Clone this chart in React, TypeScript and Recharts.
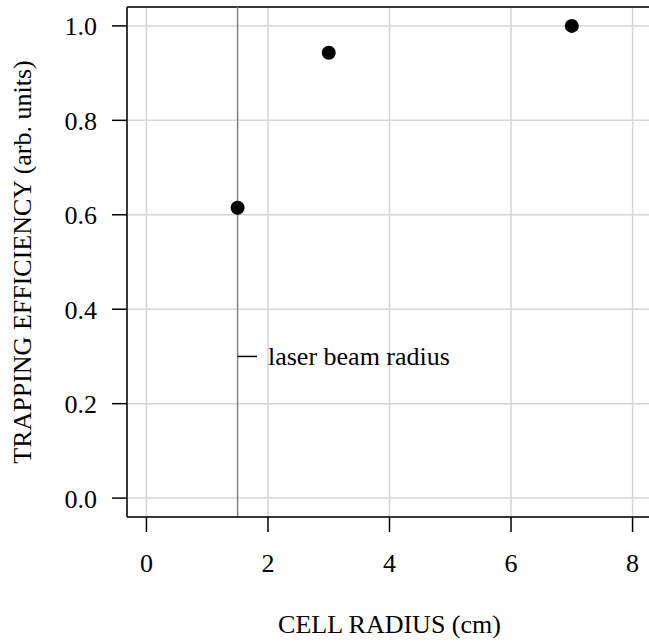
import React from 'react';
import {
  ScatterChart,
  Scatter,
  XAxis,
  YAxis,
  CartesianGrid,
  ReferenceLine,
  ReferenceDot,
} from 'recharts';

// cell radius (cm) vs trapping efficiency
const cellRadius = [1.5, 3, 7];
const efficiency = [0.615, 0.943, 1.0];

const xTicks = [0, 2, 4, 6, 8];
const yTicks = [0, 0.2, 0.4, 0.6, 0.8, 1.0];
const xDomain = [-0.32, 8.32];
const yDomain = [-0.04, 1.04];

const laserBeamRadius = 1.5;
const noteY = 0.3;
const noteDashEnd = 1.82;
const noteTextX = 2;
const noteText = 'laser beam radius';

const xTitle = 'CELL RADIUS (cm)';
const yTitle = 'TRAPPING EFFICIENCY (arb. units)';

const FONT = '"Liberation Serif", "Times New Roman", serif';
const FS = 26;

const points = cellRadius.map((r, i) => ({ x: r, y: efficiency[i] }));

const XTick = (props: any) => {
  const { x, y, payload } = props;
  return (
    <text x={x} y={y} textAnchor="middle" fill="#000" fontSize={FS} fontFamily={FONT}>
      {String(payload.value)}
    </text>
  );
};

const YTick = (props: any) => {
  const { x, y, payload } = props;
  return (
    <text x={x} y={y} dy={9.5} textAnchor="end" fill="#000" fontSize={FS} fontFamily={FONT}>
      {Number(payload.value).toFixed(1)}
    </text>
  );
};

const XTitle = (props: any) => {
  const vb = props.viewBox || {};
  return (
    <text x={vb.x + vb.width / 2} y={633} textAnchor="middle" fill="#000" fontSize={FS} fontFamily={FONT}>
      {xTitle}
    </text>
  );
};

const YTitle = (props: any) => {
  const vb = props.viewBox || {};
  const cy = vb.y + vb.height / 2;
  return (
    <text
      transform={`translate(31, ${cy}) rotate(-90)`}
      textAnchor="middle"
      fill="#000"
      fontSize={FS}
      fontFamily={FONT}
    >
      {yTitle}
    </text>
  );
};

const NoteLabel = (props: any) => {
  const vb = props.viewBox || {};
  return (
    <text x={vb.x} y={vb.y} dy={9} textAnchor="start" fill="#000" fontSize={FS} fontFamily={FONT}>
      {noteText}
    </text>
  );
};

const Dot = (props: any) => <circle cx={props.cx} cy={props.cy} r={7} fill="#000" />;

export default function App() {
  return (
    <div style={{ position: 'fixed', left: 0, top: 0, width: 649, height: 643, overflow: 'hidden', background: '#fff' }}>
      <ScatterChart width={660} height={643} margin={{ top: 7, right: 8, bottom: 0, left: 0 }}>
        <CartesianGrid stroke="#d6d6d6" strokeWidth={1.5} />
        <XAxis
          type="number"
          dataKey="x"
          domain={xDomain}
          ticks={xTicks}
          allowDataOverflow
          height={126}
          tickSize={15}
          tickMargin={40}
          axisLine={{ stroke: '#000', strokeWidth: 1.5 }}
          tickLine={{ stroke: '#000', strokeWidth: 1.5 }}
          tick={<XTick />}
          label={<XTitle />}
        />
        <YAxis
          type="number"
          dataKey="y"
          domain={yDomain}
          ticks={yTicks}
          allowDataOverflow
          width={127}
          tickSize={15}
          tickMargin={15}
          axisLine={{ stroke: '#000', strokeWidth: 1.5 }}
          tickLine={{ stroke: '#000', strokeWidth: 1.5 }}
          tick={<YTick />}
          label={<YTitle />}
        />
        <ReferenceLine y={yDomain[1]} stroke="#000" strokeWidth={1.5} />
        <ReferenceLine x={xDomain[1]} stroke="#000" strokeWidth={1.5} />
        <ReferenceLine x={laserBeamRadius} stroke="#808080" strokeWidth={1.5} />
        <ReferenceLine
          segment={[
            { x: laserBeamRadius, y: noteY },
            { x: noteDashEnd, y: noteY },
          ]}
          stroke="#000"
          strokeWidth={1.5}
        />
        <ReferenceDot x={noteTextX} y={noteY} r={0} stroke="none" fill="none" label={<NoteLabel />} />
        <Scatter data={points} shape={<Dot />} isAnimationActive={false} />
      </ScatterChart>
    </div>
  );
}
